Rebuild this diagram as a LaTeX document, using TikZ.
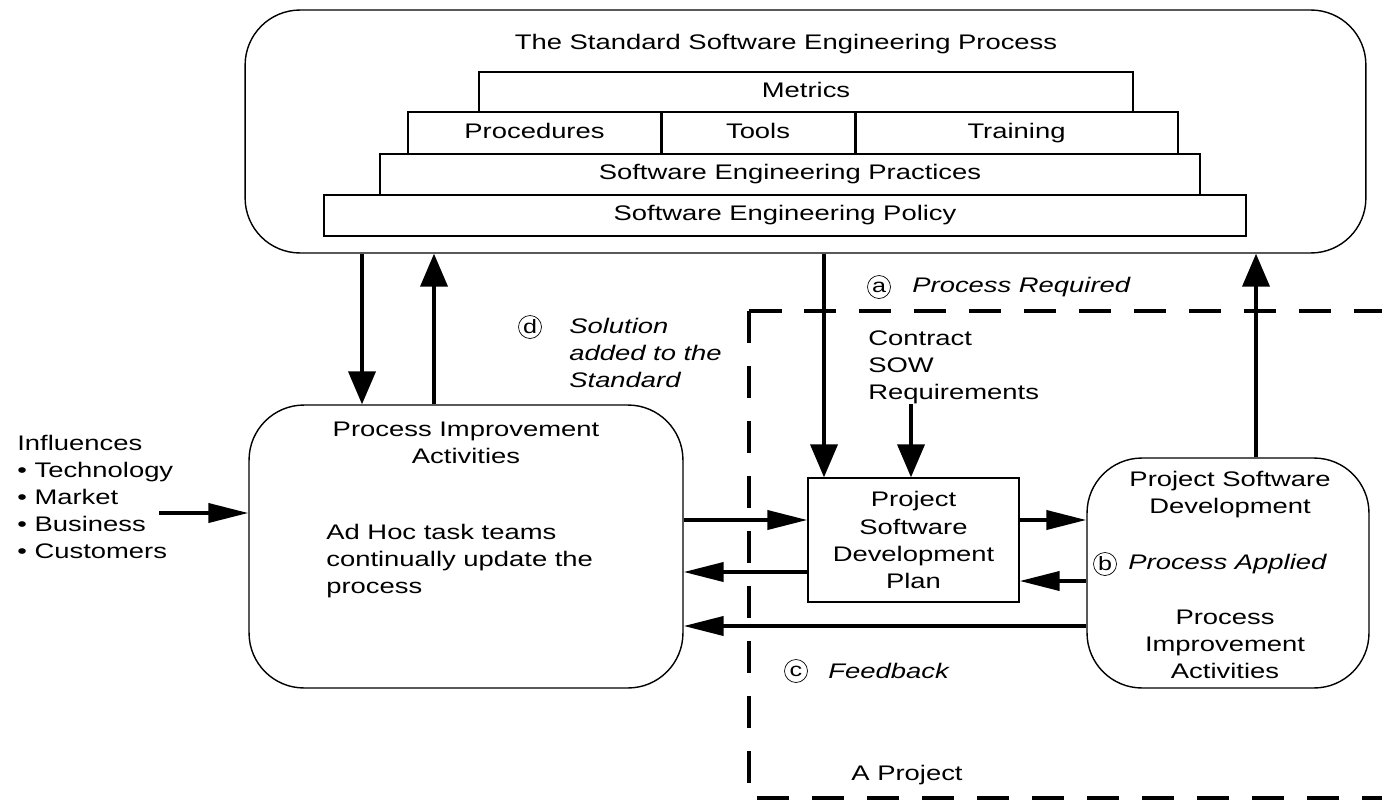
\documentclass[tikz,border=0pt]{standalone}
\usepackage{fontspec}
\setmainfont[FakeStretch=1.3]{Liberation Sans}
\usetikzlibrary{arrows.meta}

\begin{document}
\begin{tikzpicture}[x=0.02cm,y=-0.02cm,
    font=\fontsize{12}{15.4}\selectfont,
    rbox/.style={draw,rounded corners=1.1cm,line width=0.8pt},
    tier/.style={draw,line width=0.8pt,minimum height=0.82cm,inner sep=0pt,text height=1.6ex,text depth=0.45ex},
    pbox/.style={draw,line width=0.8pt,inner sep=0pt,align=center},
    tag/.style={draw,circle,inner sep=0pt,minimum size=0.46cm,font=\fontsize{11}{12}\selectfont},
    note/.style={anchor=west,inner sep=0pt,font=\fontsize{12}{15.4}\selectfont\itshape},
    txt/.style={anchor=west,inner sep=0pt,align=left},
    varrow/.style={line width=2.2pt,-{Triangle[length=0.66cm,width=0.54cm]}},
    harrow/.style={line width=2.2pt,-{Triangle[length=0.8cm,width=0.38cm]}},
    project/.style={line width=2.6pt,dash pattern=on 0.65cm off 0.45cm}]
    \useasboundingbox (0,0) rectangle (1382,801);

    % the standard process and its tiers
    \node[rbox,minimum width=22.42cm,minimum height=4.86cm] (std) at (805.5,131.5) {};
    \node (title) at (786,44) {The Standard Software Engineering Process};
    \node[tier,minimum width=13.08cm,minimum height=0.8cm] (met) at (806,92) {Metrics};
    \node[tier,minimum width=5.06cm,minimum height=0.84cm] (proc) at (534.5,133) {Procedures};
    \node[tier,minimum width=3.88cm,minimum height=0.84cm] (tools) at (758,133) {Tools};
    \node[tier,minimum width=6.46cm,minimum height=0.84cm] (train) at (1016.5,133) {Training};
    \draw[line width=1.6pt] (proc.north east) -- (proc.south east)
                            (tools.north east) -- (tools.south east);
    \node[tier,minimum width=16.4cm] (prac) at (790,174.5) {Software Engineering Practices};
    \node[tier,minimum width=18.44cm] (pol) at (785,215.5) {Software Engineering Policy};

    % process improvement
    \node[rbox,minimum width=8.68cm,minimum height=5.66cm] (pia) at (466,546.5) {};
    \node[align=center] (piat) at (466,443) {Process Improvement\\Activities};
    \node[txt] (adhoc) at (326,561) {Ad Hoc task teams\\continually update the\\process};
    \node[txt] (infl) at (17,497) {Influences\\• Technology\\• Market\\• Business\\• Customers};
    \coordinate (inf) at (159,513);

    % the project
    \draw[project] (749,311) -- (1400,311);
    \draw[project] (749,311) -- (749,798) -- (1400,798);
    \node (proj) at (907,775) {A Project};
    \node[txt] (req) at (868,367) {Contract\\SOW\\Requirements};
    \node[pbox,minimum width=4.22cm,minimum height=2.48cm] (plan) at (913.5,540) {Project\\Software\\Development\\Plan};
    \node[rbox,minimum width=5.64cm,minimum height=4.6cm] (psd) at (1228,573) {};
    \node[align=center] (psdt) at (1230,495) {Project Software\\Development};
    \node[align=center] (psdi) at (1225,644) {Process\\Improvement\\Activities};

    % lettered notes
    \node[tag] (ta) at (879,287) {a};
    \node[note] (na) at (912,287) {Process Required};
    \node[tag] (tb) at (1105,564) {b};
    \node[note] (nb) at (1128,564) {Process Applied};
    \node[tag] (tc) at (796,671) {c};
    \node[note] (nc) at (828,671) {Feedback};
    \node[tag] (td) at (530,327) {d};
    \node[note,align=left] (nd) at (569,353) {Solution\\added to the\\Standard};

    % flows
    \draw[varrow] (362,0 |- std.south) -- (362,0 |- pia.north);
    \draw[varrow] (434,0 |- pia.north) -- (434,0 |- std.south);
    \draw[varrow] (824,0 |- std.south) -- (824,0 |- plan.north);
    \draw[varrow] (1256,0 |- psd.north) -- (1256,0 |- std.south);
    \draw[varrow] (911,0 |- req.south) -- (911,0 |- plan.north);
    \draw[harrow] (inf) -- (inf -| pia.west);
    \draw[harrow] (pia.east |- 0,520) -- (plan.west |- 0,520);
    \draw[harrow] (plan.west |- 0,572) -- (pia.east |- 0,572);
    \draw[harrow] (plan.east |- 0,520) -- (psd.west |- 0,520);
    \draw[harrow] (psd.west |- 0,581) -- (plan.east |- 0,581);
    \draw[harrow] (psd.west |- 0,626) -- (pia.east |- 0,626);
\end{tikzpicture}
\end{document}
